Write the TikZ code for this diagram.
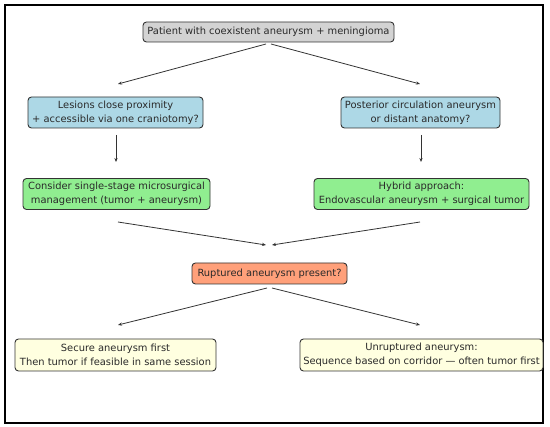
\documentclass[tikz,border=0pt]{standalone}
\usepackage{fontspec}
\setmainfont{DejaVu Sans}
\usetikzlibrary{arrows.meta}
\definecolor{cgray}{HTML}{D3D3D3}
\definecolor{cblue}{HTML}{ADD8E6}
\definecolor{cgreen}{HTML}{90EE90}
\definecolor{csalmon}{HTML}{FFA07A}
\definecolor{cyellow}{HTML}{FFFFE0}
\definecolor{ctext}{HTML}{2A2A2A}
\definecolor{cedge}{HTML}{333333}
\begin{document}
\begin{tikzpicture}[x=1pt,y=-1pt,
  box/.style={draw=cedge,line width=0.9pt,rounded corners=3.5pt,align=center,
    text=ctext,font=\fontsize{9.9}{14}\selectfont,inner xsep=2pt,inner ysep=2pt},
  conn/.style={draw=cedge,line width=0.8pt,-{Stealth[length=4pt,width=3.2pt]}}]
\useasboundingbox (0,0) rectangle (550,427);
\draw[line width=1.2pt,black] (5,5) rectangle (543,423);

\node[box,fill=cgray,minimum width=251pt,minimum height=20pt] (top) at (268.5,32) {Patient with coexistent aneurysm + meningioma};
\node[box,fill=cblue,minimum width=175pt,minimum height=31pt] (les) at (115.5,112.5) {Lesions close proximity\\+ accessible via one craniotomy?};
\node[box,fill=cblue,minimum width=159pt,minimum height=31pt] (post) at (420.5,112.5) {Posterior circulation aneurysm\\or distant anatomy?};
\node[box,fill=cgreen,minimum width=187pt,minimum height=31pt] (cons) at (116.5,194) {Consider single-stage microsurgical\\management (tumor + aneurysm)};
\node[box,fill=cgreen,minimum width=215pt,minimum height=31pt] (hyb) at (421.5,194) {Hybrid approach:\\Endovascular aneurysm + surgical tumor};
\node[box,fill=csalmon,minimum width=155pt,minimum height=21pt] (rup) at (269.5,273.5) {Ruptured aneurysm present?};
\node[box,fill=cyellow,minimum width=201pt,minimum height=32pt] (sec) at (115.5,355) {Secure aneurysm first\\Then tumor if feasible in same session};
\node[box,fill=cyellow,minimum width=243pt,minimum height=32pt] (unr) at (421.5,355) {Unruptured aneurysm:\\Sequence based on corridor — often tumor first};

\coordinate (t1) at (266,44);
\coordinate (t2) at (271,44);
\coordinate (l1) at (118,84);
\coordinate (r1) at (420,84);
\coordinate (l2a) at (116,135);
\coordinate (l2b) at (116,162);
\coordinate (r2a) at (421,135);
\coordinate (r2b) at (421,162);
\coordinate (l3a) at (118,222);
\coordinate (r3a) at (420,222);
\coordinate (m1) at (266,245);
\coordinate (m2) at (272,245);
\coordinate (b1) at (267,288);
\coordinate (b2) at (272,288);
\coordinate (l4) at (118,325);
\coordinate (r4) at (420,325);

\draw[conn] (t1) -- (l1);
\draw[conn] (t2) -- (r1);
\draw[conn] (l2a) -- (l2b);
\draw[conn] (r2a) -- (r2b);
\draw[conn] (l3a) -- (m1);
\draw[conn] (r3a) -- (m2);
\draw[conn] (b1) -- (l4);
\draw[conn] (b2) -- (r4);
\end{tikzpicture}
\end{document}
